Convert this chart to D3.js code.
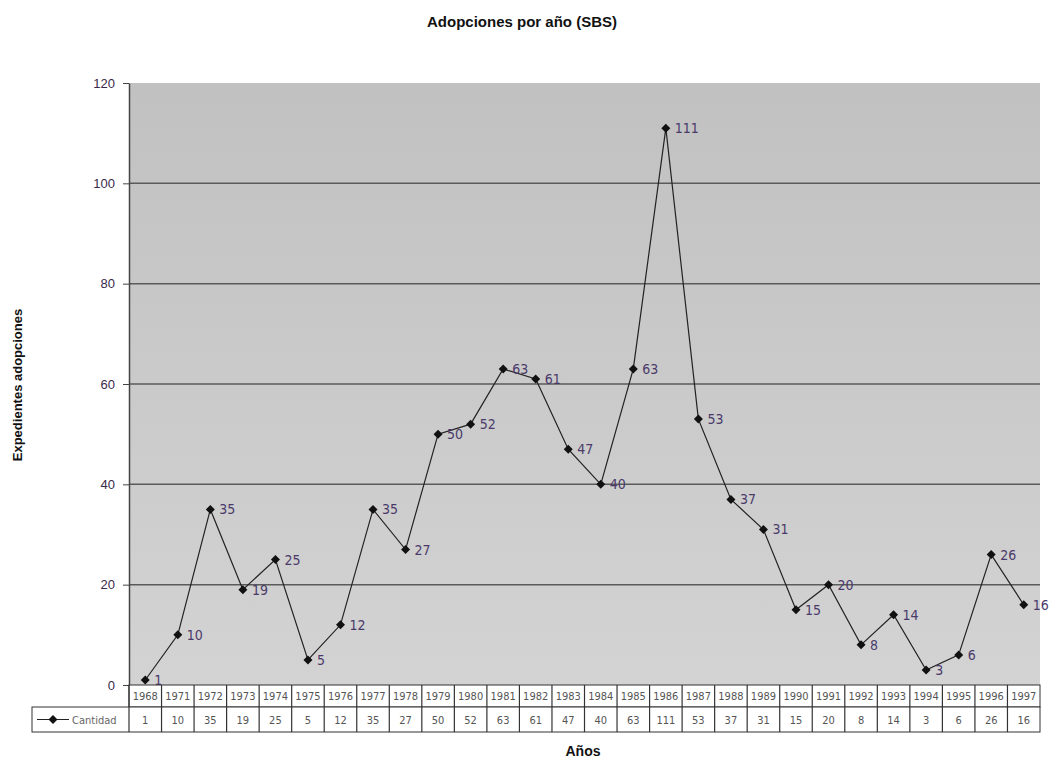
<!DOCTYPE html>
<html>
<head>
    <meta charset="utf-8">
    <title>Adopciones por año (SBS)</title>
    <style type="text/css">
        html, body {
            margin: 0;
            padding: 0;
            background: #fff;
        }
        text {
            font-family: "Liberation Sans", Arial, sans-serif;
        }
        .narrow {
            font-family: "Liberation Sans Narrow", "Arial Narrow", "DejaVu Sans Condensed", "Liberation Sans", sans-serif;
            font-stretch: condensed;
        }
    </style>
</head>
<body>
<svg id="svg" width="1052" height="760"></svg>

<script src="https://cdn.jsdelivr.net/npm/d3@7/dist/d3.min.js"></script>
<script type="text/javascript">
    var years = ['1968', '1971', '1972', '1973', '1974', '1975', '1976', '1977', '1978', '1979',
        '1980', '1981', '1982', '1983', '1984', '1985', '1986', '1987', '1988', '1989',
        '1990', '1991', '1992', '1993', '1994', '1995', '1996', '1997'];
    var cantidad = [1, 10, 35, 19, 25, 5, 12, 35, 27, 50, 52, 63, 61, 47, 40, 63, 111, 53, 37, 31,
        15, 20, 8, 14, 3, 6, 26, 16];
    var yTicks = [0, 20, 40, 60, 80, 100, 120];
    var seriesName = 'Cantidad';

    var svg = d3.select('#svg');

    // plot area (window.top is reserved, so pTop/pBottom)
    var pLeft = 129, pRight = 1040, pTop = 83, pBottom = 685;
    var rowH1 = 22, rowH2 = 25, legendX = 32;

    var x = d3.scaleBand().domain(years).range([pLeft, pRight]);
    var y = d3.scaleLinear().domain([0, 120]).range([pBottom, pTop]);

    var defs = svg.append('defs');
    var grad = defs.append('linearGradient').attr('id', 'bg')
        .attr('x1', 0).attr('y1', 0).attr('x2', 0).attr('y2', 1);
    grad.append('stop').attr('offset', '0%').attr('stop-color', '#c1c1c1');
    grad.append('stop').attr('offset', '100%').attr('stop-color', '#d3d3d3');

    svg.append('rect')
        .attr('x', pLeft).attr('y', pTop)
        .attr('width', pRight - pLeft).attr('height', pBottom - pTop)
        .attr('fill', 'url(#bg)');

    // gridlines
    svg.append('g')
        .selectAll('line')
        .data(yTicks.filter((d) => d > 0 && d < 120))
        .enter()
        .append('line')
        .attr('x1', pLeft).attr('x2', pRight)
        .attr('y1', (d) => y(d)).attr('y2', (d) => y(d))
        .attr('stroke', '#5a5a5a')
        .attr('stroke-width', 1.5);

    // y axis
    var yAxis = svg.append('g')
        .attr('transform', 'translate(' + pLeft + ',0)')
        .call(d3.axisLeft(y).tickValues(yTicks).tickSize(6).tickSizeOuter(0).tickPadding(8));
    yAxis.select('.domain').attr('stroke', '#444').attr('stroke-width', 1.5);
    yAxis.selectAll('.tick line').attr('stroke', '#444');
    yAxis.selectAll('.tick text')
        .attr('font-size', 13)
        .attr('fill', '#3a2a4a')
        .attr('font-family', '"Liberation Sans", Arial, sans-serif');

    // line
    var line = d3.line()
        .x((d, i) => x(years[i]) + x.bandwidth() / 2)
        .y((d) => y(d));

    svg.append('path')
        .datum(cantidad)
        .attr('d', line)
        .attr('fill', 'none')
        .attr('stroke', '#222')
        .attr('stroke-width', 1.2);

    // fat diamond like the excel marker
    var marker = 'M0,-4.5L4.5,0L0,4.5L-4.5,0Z';

    var pts = svg.append('g')
        .selectAll('g')
        .data(cantidad)
        .enter()
        .append('g')
        .attr('transform', (d, i) => 'translate(' + (x(years[i]) + x.bandwidth() / 2) + ',' + y(d) + ')');
    pts.append('path')
        .attr('d', marker)
        .attr('fill', '#111');
    pts.append('text')
        .attr('class', 'narrow')
        .attr('x', 9)
        .attr('y', 5)
        .attr('font-size', 14)
        .attr('fill', '#4a3a6a')
        .text((d) => d);

    // data table
    var t = svg.append('g');
    var row1 = pBottom, row2 = pBottom + rowH1, row3 = pBottom + rowH1 + rowH2;

    t.append('rect')
        .attr('x', pLeft).attr('y', row1)
        .attr('width', pRight - pLeft).attr('height', rowH1)
        .attr('fill', '#fff').attr('stroke', '#333');
    t.append('rect')
        .attr('x', legendX).attr('y', row2)
        .attr('width', pRight - legendX).attr('height', rowH2)
        .attr('fill', '#fff').attr('stroke', '#333');

    t.selectAll('line.sep')
        .data(years)
        .enter()
        .append('line')
        .attr('class', 'sep')
        .attr('x1', (d) => x(d)).attr('x2', (d) => x(d))
        .attr('y1', row1).attr('y2', row3)
        .attr('stroke', '#333')
        .attr('stroke-width', 1.2);

    t.selectAll('text.yr')
        .data(years)
        .enter()
        .append('text')
        .attr('class', 'yr narrow')
        .attr('x', (d) => x(d) + x.bandwidth() / 2)
        .attr('y', row1 + 15)
        .attr('text-anchor', 'middle')
        .attr('font-size', 11)
        .attr('fill', '#555')
        .text((d) => d);

    t.selectAll('text.val')
        .data(cantidad)
        .enter()
        .append('text')
        .attr('class', 'val narrow')
        .attr('x', (d, i) => x(years[i]) + x.bandwidth() / 2)
        .attr('y', row2 + 17)
        .attr('text-anchor', 'middle')
        .attr('font-size', 11)
        .attr('fill', '#555')
        .text((d) => d);

    // legend key inside table
    var ly = row2 + rowH2 / 2;
    t.append('line')
        .attr('x1', legendX + 5).attr('x2', legendX + 37)
        .attr('y1', ly).attr('y2', ly)
        .attr('stroke', '#222');
    t.append('path')
        .attr('d', marker)
        .attr('transform', 'translate(' + (legendX + 21) + ',' + ly + ')')
        .attr('fill', '#111');
    t.append('text')
        .attr('class', 'narrow')
        .attr('x', legendX + 40)
        .attr('y', ly + 4)
        .attr('font-size', 11)
        .attr('fill', '#666')
        .text(seriesName);

    // titles
    svg.append('text')
        .attr('x', 522).attr('y', 27)
        .attr('text-anchor', 'middle')
        .attr('font-size', 15)
        .attr('font-weight', 'bold')
        .attr('fill', '#111')
        .text('Adopciones por año (SBS)');

    svg.append('text')
        .attr('transform', 'translate(22,' + 385 + ') rotate(-90)')
        .attr('text-anchor', 'middle')
        .attr('font-size', 13)
        .attr('font-weight', 'bold')
        .attr('fill', '#111')
        .text('Expedientes adopciones');

    svg.append('text')
        .attr('x', 583).attr('y', 756)
        .attr('text-anchor', 'middle')
        .attr('font-size', 14)
        .attr('font-weight', 'bold')
        .attr('fill', '#111')
        .text('Años');
</script>
</body>
</html>
